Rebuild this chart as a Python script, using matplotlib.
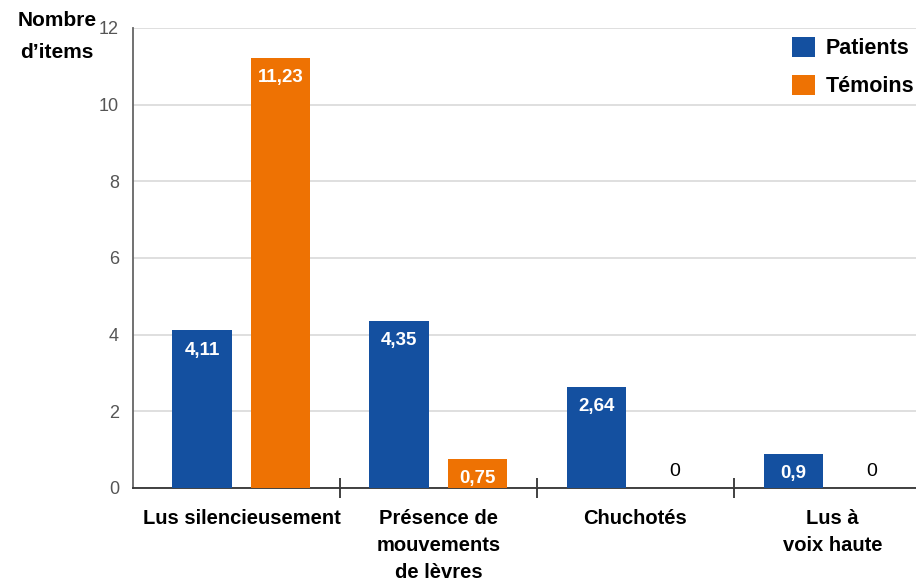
import matplotlib
matplotlib.use("Agg")
import matplotlib.pyplot as plt
import numpy as np

categories = ["Lus silencieusement", "Présence de\nmouvements\nde lèvres", "Chuchotés", "Lus à\nvoix haute"]
patients = [4.11, 4.35, 2.64, 0.9]
temoins = [11.23, 0.75, 0, 0]
series_names = ["Patients", "Témoins"]
yticks = [0, 2, 4, 6, 8, 10, 12]

blue = "#1450A0"
orange = "#EE7203"

plt.rcParams['font.family'] = ['Liberation Sans', 'DejaVu Sans']

fig = plt.figure(figsize=(9.16, 5.86), dpi=100)
ax = fig.add_axes([133/916, 98/586, 1 - 133/916 + 0.01, 460/586])

x = np.arange(len(categories))
w = 0.30
off = 0.20
b1 = ax.bar(x - off, patients, w, color=blue, label=series_names[0], zorder=3)
b2 = ax.bar(x + off, temoins, w, color=orange, label=series_names[1], zorder=3)

def label(bars, vals):
    for r, v in zip(bars, vals):
        cx = r.get_x() + r.get_width()/2
        txt = ("%g" % v).replace(".", ",")
        if v > 0:
            ax.annotate(txt, (cx, v), xytext=(0, -8), textcoords="offset points",
                        ha="center", va="top", color="white", fontweight="bold",
                        fontsize=13.5, zorder=4)
        else:
            ax.annotate(txt, (cx, 0), xytext=(0, 6), textcoords="offset points",
                        ha="center", va="bottom", color="black",
                        fontsize=14, zorder=4)

label(b1, patients)
label(b2, temoins)

ax.set_ylim(0, 12)
ax.set_xlim(-0.55, 3.47)
ax.set_yticks(yticks)
ax.set_yticklabels([str(t) for t in yticks], color="#555555", fontsize=13)
ax.tick_params(axis='y', length=0, pad=10)
ax.yaxis.grid(True, color="#d9d9d9", linewidth=1.2, zorder=0)
ax.set_axisbelow(True)

ax.set_xticks(x)
ax.set_xticklabels(categories, fontsize=14.5, fontweight="bold", linespacing=1.55)
ax.tick_params(axis='x', which='major', length=0, pad=15)
ax.set_xticks([0.5, 1.5, 2.5], minor=True)
ax.tick_params(axis='x', which='minor', length=14, direction='inout', width=1.3, color="#333333")

for s in ["top", "right"]:
    ax.spines[s].set_visible(False)
ax.spines["left"].set_color("#666666")
ax.spines["left"].set_linewidth(1.3)
ax.spines["bottom"].set_color("#333333")
ax.spines["bottom"].set_linewidth(1.3)

leg = fig.legend(handles=[b1, b2], labels=series_names, loc="upper right",
                 bbox_to_anchor=(1.005, 0.948), frameon=True,
                 prop={"weight": "bold", "size": 15.5},
                 handlelength=1.05, handleheight=1.05, labelspacing=0.72,
                 handletextpad=0.5, borderaxespad=0.0, borderpad=0.3)
leg.get_frame().set_edgecolor("none")
leg.get_frame().set_facecolor("white")

fig.text(57/916, 1 - 11/586, "Nombre\nd’items", ha="center", va="top",
         fontsize=15, fontweight="bold", linespacing=1.9)

fig.savefig("out.png", dpi=100)
